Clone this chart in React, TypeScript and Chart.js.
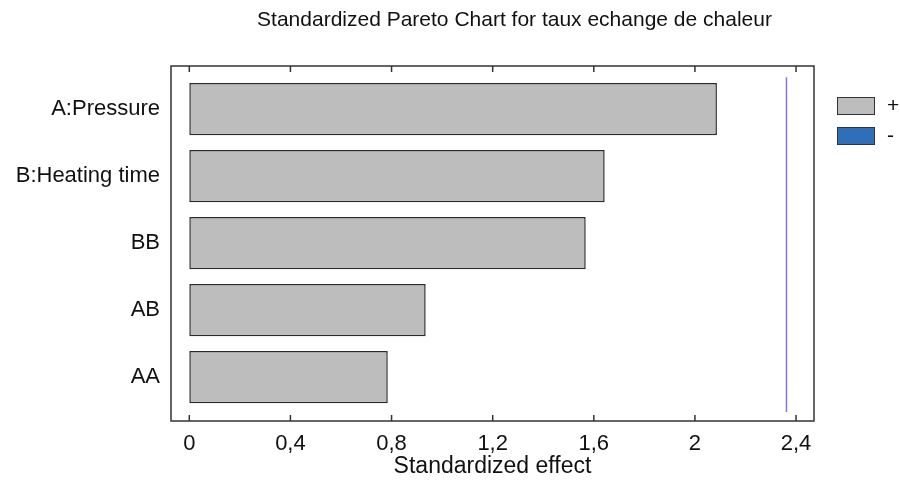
import React, { useEffect, useRef } from "react";
import { Chart, registerables } from "chart.js";

Chart.register(...registerables);

const chartTitle = "Standardized Pareto Chart for taux echange de chaleur";
const xAxisTitle = "Standardized effect";
const categories = ["A:Pressure", "B:Heating time", "BB", "AB", "AA"];
const effects = [2.087, 1.643, 1.568, 0.935, 0.785];
const xTicks = [0, 0.4, 0.8, 1.2, 1.6, 2, 2.4];
const xTickLabels = ["0", "0,4", "0,8", "1,2", "1,6", "2", "2,4"];
const threshold = 2.362;
const thresholdSpan = [-0.478, 4.52];
const legendLabels = ["+", "-"];
const legendColors = ["#bdbdbd", "#2f6fba"];

const FONT = "'Liberation Sans', Arial, Helvetica, sans-serif";

const decor = {
  id: "decor",
  afterDatasetsDraw(chart: any) {
    const { ctx, chartArea: a, scales } = chart;
    const xs = scales.x;
    const ys = scales.y;
    ctx.save();
    // threshold line
    ctx.strokeStyle = "#8a78d8";
    ctx.lineWidth = 1.5;
    const tx = xs.getPixelForValue(threshold);
    ctx.beginPath();
    ctx.moveTo(tx, ys.getPixelForValue(thresholdSpan[0]));
    ctx.lineTo(tx, ys.getPixelForValue(thresholdSpan[1]));
    ctx.stroke();
    // frame
    ctx.strokeStyle = "#333333";
    ctx.lineWidth = 1.5;
    ctx.strokeRect(a.left, a.top, a.right - a.left, a.bottom - a.top);
    // inward ticks top & bottom
    for (const v of xTicks) {
      const px = xs.getPixelForValue(v);
      ctx.beginPath();
      ctx.moveTo(px, a.top);
      ctx.lineTo(px, a.top + 6);
      ctx.moveTo(px, a.bottom);
      ctx.lineTo(px, a.bottom - 6);
      ctx.stroke();
    }
    // title
    ctx.fillStyle = "#111111";
    ctx.font = `21px ${FONT}`;
    ctx.textAlign = "center";
    ctx.textBaseline = "alphabetic";
    ctx.fillText(chartTitle, (a.left + a.right) / 2 + 22, 25.5);
    // legend
    legendLabels.forEach((lab, i) => {
      const bx = a.right + 23;
      const by = a.top + 31 + i * 30;
      ctx.fillStyle = legendColors[i];
      ctx.fillRect(bx, by, 37, 17);
      ctx.strokeStyle = "#333333";
      ctx.lineWidth = 1;
      ctx.strokeRect(bx + 0.5, by + 0.5, 37, 17);
      ctx.fillStyle = "#111111";
      ctx.font = `21px ${FONT}`;
      ctx.textAlign = "left";
      ctx.textBaseline = "middle";
      ctx.fillText(lab, bx + 50, by + 9);
    });
    ctx.restore();
  },
};

export default function App() {
  const ref = useRef<HTMLCanvasElement | null>(null);

  useEffect(() => {
    if (!ref.current) return;
    const chart = new Chart(ref.current, {
      type: "bar",
      data: {
        datasets: [
          {
            label: legendLabels[0],
            data: effects.map((v, i) => ({ x: v, y: i })),
            backgroundColor: legendColors[0],
            borderColor: "#2b2b2b",
            borderWidth: 1.5,
            borderSkipped: false,
            categoryPercentage: 1,
            barPercentage: 0.78,
          } as any,
        ],
      },
      options: {
        indexAxis: "y",
        responsive: false,
        animation: false,
        layout: { padding: { top: 66, right: 86, left: 0, bottom: 0 } },
        plugins: {
          legend: { display: false },
          title: { display: false },
          tooltip: { enabled: false },
        },
        scales: {
          x: {
            type: "linear",
            min: -0.0724,
            max: 2.471,
            offset: false,
            grid: { display: false, drawTicks: false },
            border: { display: false },
            afterBuildTicks: (s: any) => {
              s.ticks = xTicks.map((v) => ({ value: v }));
            },
            afterFit: (s: any) => {
              s.height = 67;
            },
            ticks: {
              padding: 10,
              color: "#111111",
              font: { family: FONT, size: 22 },
              maxRotation: 0,
              autoSkip: false,
              callback: (v: any) => {
                const idx = xTicks.indexOf(Number(v));
                return idx >= 0 ? xTickLabels[idx] : "";
              },
            },
            title: {
              display: true,
              text: xAxisTitle,
              color: "#111111",
              font: { family: FONT, size: 23 },
              padding: { top: 0, bottom: 8 },
            },
          },
          y: {
            type: "linear",
            reverse: true,
            offset: false,
            min: -0.645,
            max: 4.655,
            grid: { display: false, drawTicks: false },
            border: { display: false },
            afterBuildTicks: (s: any) => {
              s.ticks = categories.map((_, i) => ({ value: i }));
            },
            afterFit: (s: any) => {
              s.width = 171;
            },
            ticks: {
              padding: 11,
              color: "#111111",
              font: { family: FONT, size: 22 },
              autoSkip: false,
              callback: (v: any) => categories[Number(v)] ?? "",
            },
          },
        },
      },
      plugins: [decor],
    });
    return () => chart.destroy();
  }, []);

  return (
    <div style={{ position: "absolute", left: 0, top: 0, width: 900, height: 488, background: "#ffffff" }}>
      <canvas ref={ref} width={900} height={488} style={{ width: 900, height: 488, display: "block" }} />
    </div>
  );
}
